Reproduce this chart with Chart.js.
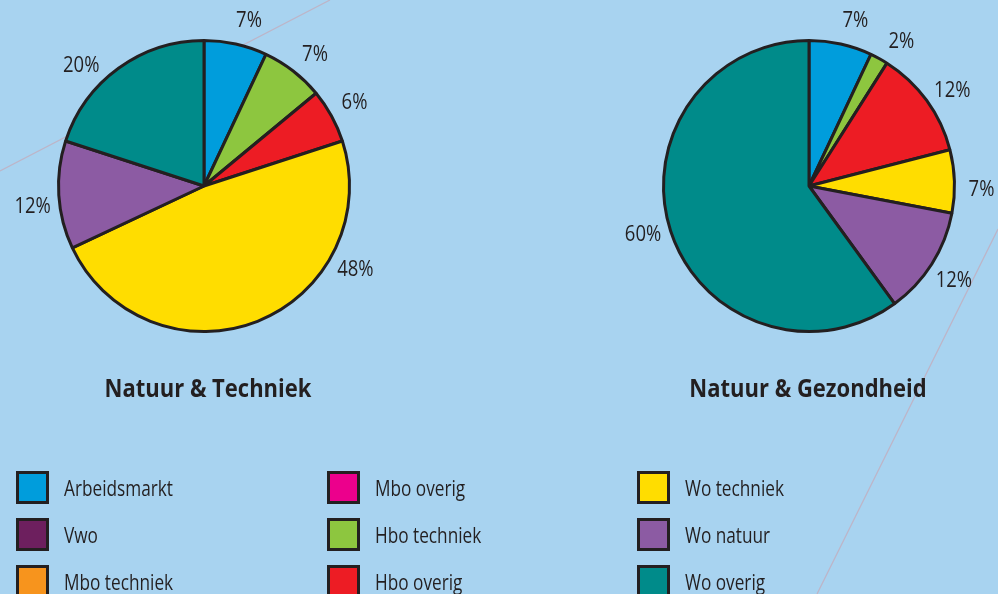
<!DOCTYPE html>
<html>
<head>
<meta charset="utf-8">
<script src="https://cdn.jsdelivr.net/npm/chart.js@4.4.1/dist/chart.umd.min.js"></script>
<style>
    html, body { margin: 0; padding: 0; }
    body {
        width: 998px; height: 594px; overflow: hidden; position: relative;
        background: #a8d3f0; font-family: "Open Sans", sans-serif; color: #231f20;
    }
    canvas { position: absolute; left: 0; top: 0; }
    .title {
        position: absolute; top: 372px; width: 400px; text-align: center;
        font-weight: bold; font-size: 25px; line-height: 30px;
        transform: scaleX(0.88); transform-origin: center;
    }
    #legend {
        position: absolute; left: 16px; top: 471px;
        display: grid; grid-auto-flow: column;
        grid-template-rows: repeat(3, 47px);
        grid-template-columns: 311px 310px 240px;
    }
    .item { display: flex; align-items: flex-start; font-size: 21px; font-weight: 500; }
    .box {
        width: 27px; height: 27px; border: 3px solid #231f20; box-sizing: content-box;
        margin-right: 15px; flex: none;
    }
    .item span {
        line-height: 34px; white-space: nowrap;
        display: inline-block; transform: scaleX(0.82); transform-origin: left center;
    }
</style>
</head>
<body>
<canvas id="chart-left" width="998" height="594"></canvas>
<canvas id="chart-right" width="998" height="594"></canvas>
<div class="title" style="left:8px">Natuur &amp; Techniek</div>
<div class="title" style="left:608px">Natuur &amp; Gezondheid</div>
<div id="legend"></div>
<script>
// categories (legend order) and their colours
const categories = ['Arbeidsmarkt', 'Vwo', 'Mbo techniek', 'Mbo overig', 'Hbo techniek',
    'Hbo overig', 'Wo techniek', 'Wo natuur', 'Wo overig'];
const colors = ['#009ddc', '#6d1f5e', '#f7941d', '#ec008c', '#8dc63f',
    '#ed1c24', '#ffdd00', '#8c5ba3', '#008b8a'];

// percentages per profile
const natuurTechniek = [7, 0, 0, 0, 7, 6, 48, 12, 20];
const natuurGezondheid = [7, 0, 0, 0, 2, 12, 7, 12, 60];

const ink = '#231f20';

// thin decorative lines behind the pies
const backdropLines = {
    id: 'backdropLines',
    beforeDraw(chart) {
        const ctx = chart.ctx;
        ctx.save();
        ctx.strokeStyle = '#bdb5c8';
        ctx.lineWidth = 1.3;
        ctx.beginPath();
        ctx.moveTo(0, 171); ctx.lineTo(330, 0);
        ctx.moveTo(998, 229); ctx.lineTo(817, 594);
        ctx.stroke();
        ctx.restore();
    }
};

// percentage labels outside each slice; anchor = where along the slice (0..1) the label sits
const sliceLabels = {
    id: 'sliceLabels',
    afterDatasetsDraw(chart, args, opts) {
        const ctx = chart.ctx;
        const meta = chart.getDatasetMeta(0);
        const values = chart.data.datasets[0].data;
        ctx.save();
        ctx.font = '500 21px "Open Sans", sans-serif';
        ctx.fillStyle = ink;
        ctx.textAlign = 'center';
        ctx.textBaseline = 'alphabetic';
        meta.data.forEach((arc, i) => {
            if (!values[i]) return;
            const p = arc.getProps(['x', 'y', 'startAngle', 'endAngle', 'outerRadius'], true);
            const f = (opts.anchor && opts.anchor[i] != null) ? opts.anchor[i] : 0.5;
            const a = p.startAngle + f * (p.endAngle - p.startAngle);
            const r = p.outerRadius + 27;
            const x = p.x + Math.cos(a) * r;
            const y = p.y + Math.sin(a) * r;
            ctx.save();
            ctx.translate(x, y);
            ctx.scale(0.88, 1);
            ctx.fillText(values[i] + '%', 0, 7.5);
            ctx.restore();
        });
        ctx.restore();
    }
};

function pieConfig(values, padding, extraPlugins, anchor) {
    return {
        type: 'pie',
        data: {
            labels: categories,
            datasets: [{
                data: values,
                backgroundColor: colors,
                borderColor: ink,
                borderWidth: 3
            }]
        },
        options: {
            responsive: false,
            animation: false,
            layout: { padding: padding },
            plugins: {
                legend: { display: false },
                tooltip: { enabled: false },
                sliceLabels: { anchor: anchor || {} }
            }
        },
        plugins: extraPlugins.concat([sliceLabels])
    };
}

new Chart(document.getElementById('chart-left'),
    pieConfig(natuurTechniek, { left: 57, top: 39, right: 647, bottom: 261 }, [backdropLines],
        { 0: 0.6, 4: 0.59, 5: 0.48, 6: 0.27, 7: 0.43, 8: 0.37 }));
new Chart(document.getElementById('chart-right'),
    pieConfig(natuurGezondheid, { left: 662, top: 39, right: 42, bottom: 261 }, [],
        { 0: 0.62, 4: 1.0, 5: 0.55, 6: 0.6, 7: 0.51, 8: 0.51 }));

// legend
const legend = document.getElementById('legend');
categories.forEach((name, i) => {
    const item = document.createElement('div');
    item.className = 'item';
    item.innerHTML = `<div class="box" style="background:${colors[i]}"></div><span>${name}</span>`;
    legend.appendChild(item);
});
</script>
</body>
</html>
